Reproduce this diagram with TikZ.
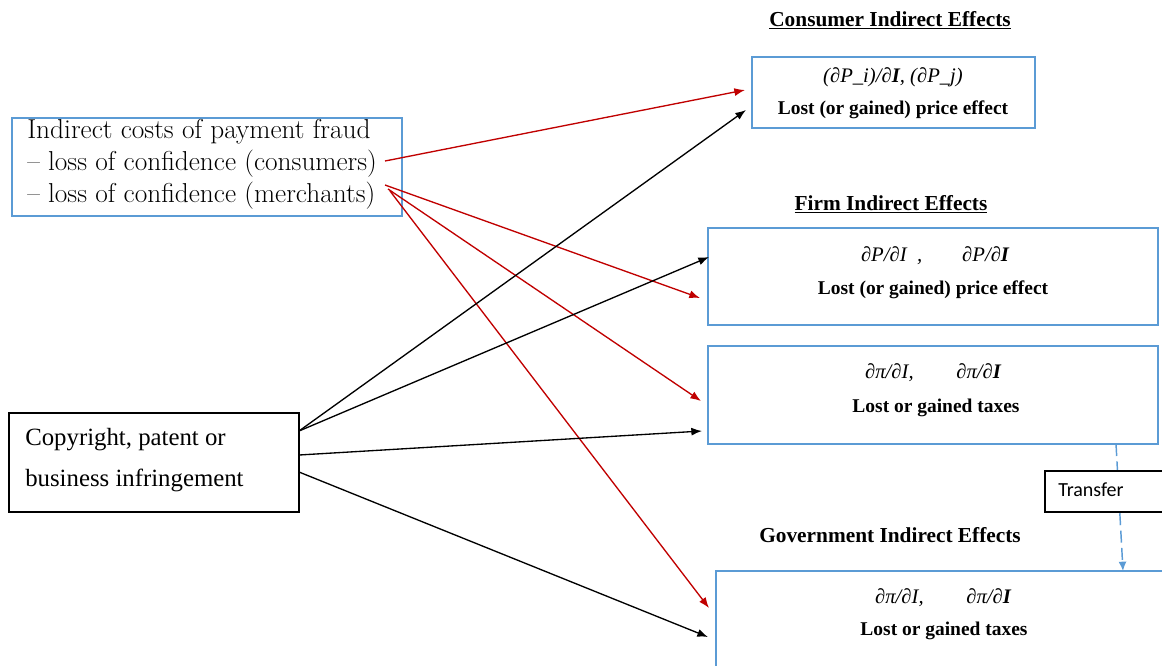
\documentclass[tikz,border=0pt]{standalone}
\usepackage{fontspec}
\newfontfamily\tnr{Liberation Serif}
\newfontfamily\calib{Carlito}
\usetikzlibrary{arrows.meta}
\definecolor{boxblue}{RGB}{91,155,213}
\definecolor{arrred}{RGB}{192,0,0}
\tikzset{
  bluebox/.style={draw=boxblue, line width=1.1pt, fill=white, inner sep=0pt},
  blackbox/.style={draw=black, line width=0.9pt, fill=white, inner sep=0pt},
  redarr/.style={draw=arrred, line width=1pt, -{Latex[length=8pt,width=6pt]}},
  blackarr/.style={draw=black, line width=1pt, -{Latex[length=8pt,width=6pt]}},
  boxtxt/.style={font=\tnr\bfseries\fontsize{14.6}{16}\selectfont, inner sep=0pt, anchor=center},
  mathtxt/.style={font=\tnr\itshape\fontsize{15.5}{17}\selectfont, inner sep=0pt, anchor=center},
  titletxt/.style={font=\tnr\bfseries\fontsize{16}{18}\selectfont, inner sep=0pt, anchor=center},
}
\begin{document}
\begin{tikzpicture}[x=0.75pt,y=-0.75pt]
\useasboundingbox (0,0) rectangle (1162,665);
\clip (0,0) rectangle (1162,665);

% titles
\node[titletxt] (tcons) at (890,20) {\underline{Consumer Indirect Effects}};
\node[titletxt] (tfirm) at (891,204) {\underline{Firm Indirect Effects}};
\node[titletxt] (tgov) at (890,535) {Government Indirect Effects};

% dashed transfer line (behind boxes)
\coordinate (trs) at (1116,444);
\coordinate (tre) at (1123,571);
\draw[boxblue, line width=1.1pt, dash pattern=on 9pt off 4pt, -{Latex[length=7pt,width=6pt]}] (trs) -- (tre);

% boxes
\node[bluebox, minimum width=212.25pt, minimum height=53.25pt] (cons) at (893.5,92.5) {};
\node[bluebox, minimum width=292.5pt, minimum height=73.5pt] (ind) at (207,167) {};
\node[bluebox, minimum width=337.5pt, minimum height=72.75pt] (firm1) at (933,276.5) {};
\node[bluebox, minimum width=337.5pt, minimum height=73.5pt] (firm2) at (933,395) {};
\node[blackbox, minimum width=97.5pt, minimum height=30.75pt] (trans) at (1110,491.5) {};
\node[bluebox, minimum width=344.25pt, minimum height=89.25pt] (gov) at (945.5,630.5) {};
\node[blackbox, minimum width=217.5pt, minimum height=74.25pt] (copy) at (154,462.5) {};

% box texts
\node[mathtxt] (consm) at (893,77) {(∂P\_i)/∂\textbf{I}, (∂P\_j)};
\node[boxtxt] (const) at (893,110) {Lost (or gained) price effect};
\node[mathtxt] (firm1m) at (935,256) {∂P/∂I\,\,\,,\hspace{30pt}∂P/∂\textbf{I}};
\node[boxtxt] (firm1t) at (933,290) {Lost (or gained) price effect};
\node[mathtxt] (firm2m) at (933,373) {∂π/∂I,\hspace{32pt}∂π/∂\textbf{I}};
\node[boxtxt] (firm2t) at (936,408) {Lost or gained taxes};
\node[mathtxt] (govm) at (943,598) {∂π/∂I,\hspace{32pt}∂π/∂\textbf{I}};
\node[boxtxt] (govt) at (944,631) {Lost or gained taxes};
\node[font=\calib\fontsize{15}{17}\selectfont, anchor=west, inner sep=0pt] (transt) at (1058,490) {Transfer};

\node[font=\fontsize{20.5}{24}\selectfont, anchor=north west, inner sep=0pt, align=left] (indt) at (27,119)
  {Indirect costs of payment fraud\\– loss of confidence (consumers)\\– loss of confidence (merchants)};
\node[font=\tnr\fontsize{18.6}{31}\selectfont, anchor=north west, inner sep=0pt, align=left] (copyt) at (25,428)
  {Copyright, patent or\\business infringement};

% connector points
\coordinate (r1s) at (385,161);
\coordinate (r1e) at (745,90);
\coordinate (r2s) at (385,185);
\coordinate (r2e) at (700,298);
\coordinate (r3s) at (388,189);
\coordinate (r3e) at (701,401);
\coordinate (r4s) at (390,191);
\coordinate (r4e) at (709,608);
\coordinate (b1s) at (299,431);
\coordinate (b1e) at (746,110);
\coordinate (b2s) at (299,431);
\coordinate (b2e) at (709,257);
\coordinate (b3s) at (299,455);
\coordinate (b3e) at (702,431);
\coordinate (b4s) at (299,472);
\coordinate (b4e) at (708,637);

\draw[redarr] (r1s) -- (r1e);
\draw[redarr] (r2s) -- (r2e);
\draw[redarr] (r3s) -- (r3e);
\draw[redarr] (r4s) -- (r4e);
\draw[blackarr] (b1s) -- (b1e);
\draw[blackarr] (b2s) -- (b2e);
\draw[blackarr] (b3s) -- (b3e);
\draw[blackarr] (b4s) -- (b4e);
\end{tikzpicture}
\end{document}
